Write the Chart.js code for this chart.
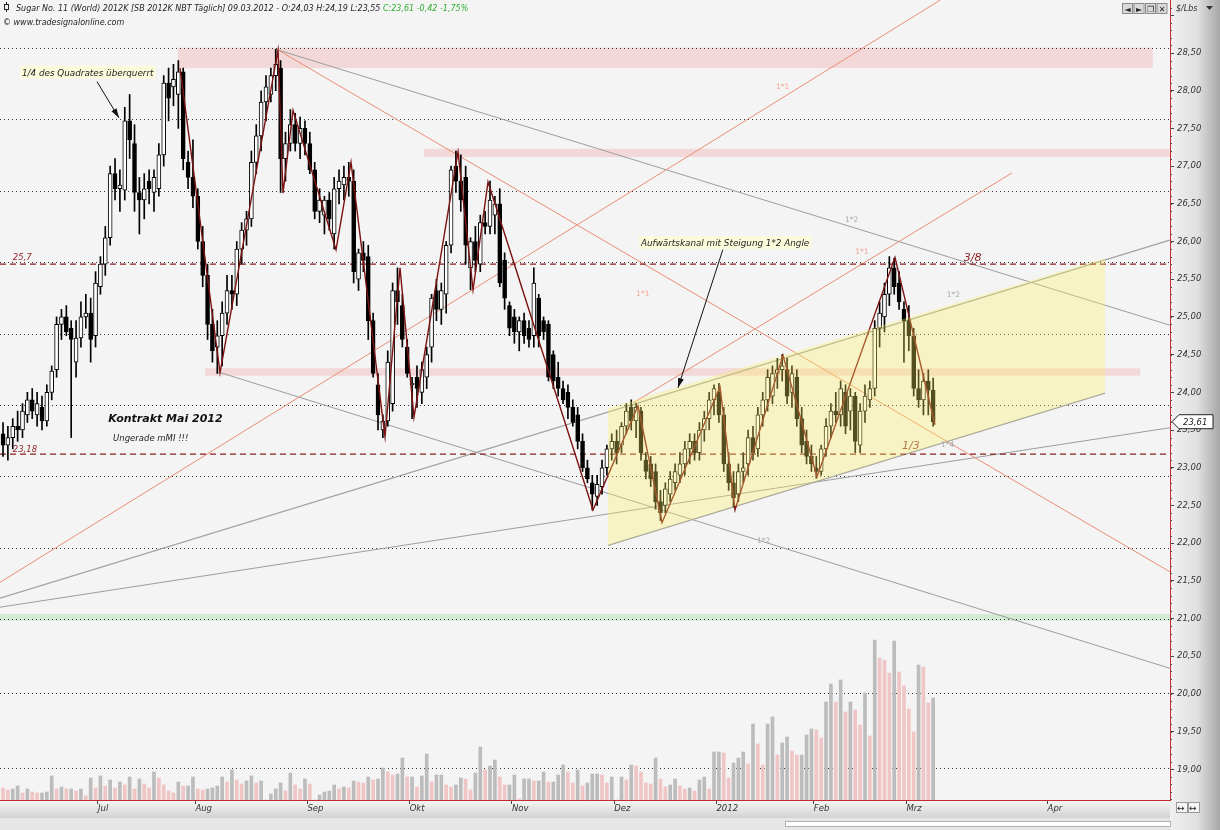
<!DOCTYPE html>
<html>
<head>
<meta charset="utf-8">
<script src="https://cdn.jsdelivr.net/npm/chart.js@4.4.1/dist/chart.umd.min.js"></script>
<style>
  html, body { margin: 0; padding: 0; background: #f4f4f4; }
</style>
</head>
<body>
<canvas id="chart" width="1220" height="830"></canvas>
<script>
// Sugar No. 11 (World) 2012K, daily bars, June 2011 - 09.03.2012
const opens = [
  23.45,23.30,23.40,23.55,23.50,23.70,23.90,23.70,23.80,23.62, 24.00,24.30,24.90,25.00,24.85,24.40,24.72,25.00,25.05,24.75,
  25.40,25.70,26.05,26.90,26.70,26.68,27.60,27.30,26.65,26.55, 26.80,26.65,26.70,27.15,28.10,28.05,27.95,28.25,27.05,26.85,
  26.60,26.00,25.55,24.90,24.60,24.75,25.05,25.35,25.30,25.90, 26.15,26.30,27.05,27.40,27.85,27.95,28.20,28.30,27.10,27.30,
  27.55,27.30,27.50,27.30,26.95,26.40,26.35,26.55,26.10,26.70, 26.75,26.85,26.80,25.50,25.85,25.80,24.95,24.10,23.50,23.62,
  23.85,25.35,25.15,24.60,24.10,24.20,24.00,24.20,24.60,25.35, 25.10,25.30,25.95,27.00,26.80,26.85,25.65,26.00,25.70,26.25,
  26.20,26.35,26.50,25.75,25.15,25.00,24.80,24.95,24.85,24.75, 25.25,24.95,24.90,24.50,24.20,24.05,24.00,23.80,23.70,23.35,
  23.00,22.80,22.62,22.75,23.00,23.25,23.35,23.30,23.55,23.80, 23.62,23.75,23.10,23.05,22.95,22.55,22.50,22.65,22.80,22.90,
  23.05,23.25,23.35,23.20,23.50,23.65,23.90,24.00,23.70,23.05, 22.80,22.65,22.95,23.05,23.40,23.25,23.70,23.90,23.95,24.25,
  24.30,24.30,24.00,24.20,23.65,23.35,23.15,23.00,22.95,23.25, 23.55,23.75,23.70,24.00,23.75,23.95,23.30,23.75,23.90,24.05,
  24.85,25.00,25.30,25.65,25.45,25.10,24.95,24.75,24.05,23.90, 24.15,24.03
];
const highs = [
  23.60,23.55,23.65,23.75,23.85,24.00,24.05,24.00,23.95,24.10, 24.35,25.00,25.10,25.15,24.95,24.95,25.20,25.30,25.25,25.60,
  25.80,26.20,27.00,27.10,26.95,27.78,27.95,27.55,26.85,26.90, 26.95,26.95,27.30,28.20,28.30,28.35,28.40,28.30,27.20,27.35,
  26.70,26.20,25.70,25.10,24.95,25.20,25.55,25.55,26.00,26.25, 26.40,27.20,27.55,28.00,28.20,28.30,28.55,28.40,27.45,27.75,
  27.70,27.65,27.60,27.45,27.05,26.70,26.60,26.65,26.85,26.95, 27.00,27.05,26.95,25.90,26.00,25.95,25.05,24.25,23.70,24.55,
  25.45,25.65,25.30,24.70,24.20,24.35,24.40,24.60,25.30,25.50, 25.45,26.00,27.00,27.20,27.15,27.00,26.05,26.20,26.35,26.40,
  26.80,26.60,26.70,25.85,25.20,25.10,25.00,25.05,24.95,25.65, 25.30,25.00,24.95,24.55,24.40,24.15,24.10,23.90,23.80,23.45,
  23.10,22.90,22.90,23.10,23.30,23.45,23.50,23.60,23.85,23.90, 23.85,23.80,23.20,23.15,23.05,22.70,22.80,22.95,23.05,23.20,
  23.35,23.45,23.45,23.60,23.75,24.00,24.10,24.12,23.80,23.20, 22.95,23.05,23.20,23.50,23.55,23.80,24.00,24.30,24.35,24.45,
  24.50,24.45,24.35,24.30,23.80,23.50,23.30,23.15,23.30,23.65, 23.85,24.00,24.15,24.10,24.05,24.00,23.85,24.10,24.15,24.95,
  25.20,25.45,25.80,25.78,25.60,25.20,25.15,24.85,24.30,24.25, 24.30,24.19
];
const lows = [
  23.15,23.10,23.25,23.35,23.40,23.60,23.65,23.55,23.50,23.55, 23.90,24.20,24.70,24.75,23.40,24.20,24.60,24.85,24.40,24.60,
  25.30,25.55,25.95,26.55,26.40,26.55,27.10,26.40,26.10,26.30, 26.50,26.40,26.60,27.00,27.60,27.80,27.50,26.95,26.70,26.45,
  25.90,25.40,24.70,24.40,24.25,24.35,24.90,25.10,25.15,25.70, 25.95,26.20,26.90,27.20,27.60,27.85,28.00,26.65,26.80,27.20,
  27.20,27.10,27.15,26.90,26.30,26.25,26.10,26.15,25.90,26.50, 26.55,26.60,25.45,25.35,25.60,24.70,24.20,23.50,23.40,23.55,
  23.75,24.90,24.60,24.20,23.65,23.80,23.85,24.05,24.40,24.95, 24.90,25.05,25.85,26.65,26.40,25.70,25.36,25.60,25.60,26.10,
  26.10,26.10,25.40,25.10,24.75,24.65,24.55,24.65,24.60,24.60, 24.60,24.70,24.15,24.05,23.95,23.85,23.65,23.55,23.25,22.95,
  22.80,22.44,22.50,22.65,22.90,23.10,23.05,23.20,23.45,23.50, 23.40,23.10,22.85,22.75,22.45,22.30,22.40,22.55,22.70,22.80,
  22.90,23.05,23.10,23.10,23.35,23.50,23.70,23.60,22.95,22.70, 22.48,22.55,22.80,22.90,23.10,23.15,23.55,23.75,23.85,24.05,
  24.15,23.85,23.80,23.55,23.20,23.05,22.95,22.86,22.90,23.15, 23.40,23.60,23.55,23.45,23.50,23.20,23.20,23.60,23.80,23.95,
  24.60,24.80,25.15,25.30,25.10,24.40,24.55,23.95,23.80,23.70, 23.70,23.55
];
const closes = [
  23.30,23.40,23.55,23.50,23.75,23.90,23.75,23.85,23.62,24.00, 24.28,24.90,25.00,24.80,24.70,24.72,25.00,25.05,24.70,25.45,
  25.70,26.05,26.90,26.70,26.75,27.60,27.35,26.65,26.55,26.70, 26.70,26.85,27.15,28.10,27.90,28.15,28.25,27.10,26.85,26.60,
  26.00,25.55,24.90,24.55,24.75,25.05,25.35,25.30,25.90,26.15, 26.30,27.05,27.40,27.85,28.05,28.20,28.35,27.10,27.30,27.55,
  27.30,27.50,27.30,26.95,26.40,26.55,26.55,26.30,26.70,26.80, 26.85,26.80,25.60,25.85,25.75,24.95,24.25,23.70,23.62,24.40,
  25.35,25.20,24.70,24.25,24.12,24.05,24.30,24.50,25.25,25.10, 25.35,25.95,26.95,26.80,26.55,25.95,26.00,25.75,26.25,26.20,
  26.55,26.50,25.45,25.25,24.85,24.80,24.95,24.75,24.70,25.45, 24.75,24.80,24.20,24.15,24.05,23.90,23.80,23.60,23.35,23.00,
  22.85,22.65,22.78,23.00,23.25,23.35,23.20,23.55,23.75,23.62, 23.80,23.20,22.95,22.85,22.55,22.40,22.72,22.85,22.95,23.05,
  23.25,23.35,23.20,23.50,23.65,23.90,24.05,23.70,23.05,22.80, 22.60,22.95,23.00,23.40,23.20,23.70,23.90,24.20,24.25,24.30,
  24.35,23.95,24.25,23.65,23.30,23.15,23.05,22.95,23.25,23.55, 23.75,23.70,24.05,23.55,23.95,23.35,23.75,23.95,24.05,24.85,
  25.05,25.30,25.65,25.40,25.20,24.95,24.75,24.05,23.90,24.15, 24.03,23.61
];
// volume, relative units (bar height)
const volume = [
  12,10,11,14,7,11,8,7,7,8, 24,11,13,11,11,9,11,4,22,12, 24,14,20,12,18,15,23,11,21,16,
  12,28,22,15,9,7,18,14,14,23, 11,10,11,12,14,23,18,30,20,16, 19,24,17,19,0,6,11,17,9,27,
  15,11,21,16,0,5,8,9,15,11, 13,12,19,18,17,23,20,21,32,28, 25,26,42,23,23,13,24,46,18,25,
  25,15,13,15,22,21,10,27,53,30, 34,40,23,15,15,25,1,21,21,19, 19,28,18,18,25,35,28,17,30,14,
  17,26,26,25,17,23,0, 23,20,35,34,28,17,16,42,21,13,15,21,14,11,12,9,20,23,11,48,48,47,22,37,
  42,48,36,76,56,35,76,83,45,57, 63,49,45,45,65,71,70,62,98,116, 98,120,88,98,90,75,107,64,160,142,
  140,127,159,128,114,91,68,135,133,97,102
];
const monthPos = [19.5, 39.5, 62.5, 83.5, 104.5, 125.5, 146.5, 166.5, 185.5, 214.5];
const monthLabels = ['Jul', 'Aug', 'Sep', 'Okt', 'Nov', 'Dez', '2012', 'Feb', 'Mrz', 'Apr'];

// zigzag swing points (bar index, price)
const zigX = [36.35, 44.56, 56.47, 57.49, 59.55, 68.38, 71.46, 78.44, 81.52, 84.39, 93.43, 96.51, 99.59,
              121.15, 130.39, 135.32, 147.23, 150.31, 160.16, 167.15, 183.16, 191.38];
const zigY = [28.30, 24.26, 28.54, 26.64, 27.74, 25.89, 27.05, 23.41, 25.65, 23.67, 27.19, 25.36, 26.79,
              22.44, 23.82, 22.27, 24.07, 22.44, 24.49, 22.88, 25.79, 23.57];

// Gann angle lines [x1, y1, x2, y2]
const angleLines1x1 = [[56.47, 28.54, 239.6, 21.62], [-0.62, 21.48, 192.4, 29.20], [129.4, 23.86, 207.2, 26.91]];
const angleLines1x2 = [[56.47, 28.54, 239.6, 24.89], [44.15, 24.27, 239.6, 20.34], [-0.62, 21.15, 239.6, 23.53]];
const channelTopLine = [-0.62, 21.27, 239.6, 26.02];
const channelBottomLine = [124.23, 21.97, 226.28, 23.99];
const channelX = [124.23, 226.28];
const channelTop = [23.79, 25.78];
const channelBottom = [21.97, 23.99];

// resistance zones [x1, x2, low, high]
const zones = [[35.9, 236.1, 28.30, 28.57], [86.4, 240, 27.12, 27.23], [41.5, 233.5, 24.22, 24.32]];
const supportZone = [20.97, 21.06];
const dashedLevels = [25.7, 23.18];
const dottedLevels = [28.57, 27.62, 26.67, 25.73, 24.77, 23.83, 22.89, 21.93, 21.0, 20.01, 19.02];

const xMin = -0.62, xMax = 239.63, yMin = 18.593, yMax = 29.203;
const FONT = '"DejaVu Sans", sans-serif';

const bars = closes.map((c, i) => i);
const up = bars.map(i => closes[i] >= opens[i]);

function lineSet(p, color, width, order, dash) {
  return {
    type: 'line', data: [{x: p[0], y: p[1]}, {x: p[2], y: p[3]}],
    borderColor: color, borderWidth: width, pointRadius: 0, order: order,
    borderDash: dash || [], yAxisID: 'y'
  };
}

const datasets = [
  {
    type: 'bar', yAxisID: 'yVol', order: 20, grouped: false, barThickness: 3,
    data: bars.map(i => ({x: i, y: volume[i]})),
    backgroundColor: volume.map((v, i) => (i > 0 && v >= volume[i - 1]) ? '#bcbcbc' : '#f0c5c5')
  },
  ...angleLines1x1.map(p => lineSet(p, '#ec8d74', 1, 12)),
  ...angleLines1x2.map(p => lineSet(p, '#9d9d9d', 1, 12)),
  lineSet(channelTopLine, '#a2a2a2', 1.3, 11),
  lineSet(channelBottomLine, '#a2a2a2', 1.2, 11),
  ...dashedLevels.map(v => lineSet([xMin, v, xMax, v], '#8a1f1f', 1.2, 10, [6, 4])),
  {
    type: 'bar', yAxisID: 'y', order: 6, grouped: false, barThickness: 1,
    data: bars.map(i => ({x: i, y: [lows[i], highs[i]]})),
    backgroundColor: '#000'
  },
  {
    type: 'bar', yAxisID: 'y', order: 5, grouped: false, barThickness: 4, minBarLength: 1,
    data: bars.map(i => ({x: i, y: [opens[i], closes[i]]})),
    backgroundColor: up.map(u => u ? '#ffffff' : '#000000'),
    borderColor: '#000', borderWidth: 1, borderSkipped: false
  },
  {
    type: 'line', yAxisID: 'y', order: 2,
    data: zigX.map((x, i) => ({x: x, y: zigY[i]})),
    borderColor: '#7c1212', borderWidth: 1.4, pointRadius: 0
  }
];

// text notes placed in chart units
const notes = [
  {t: '25,7', x: 2.0, y: 25.75, k: 'lvl'},
  {t: '23,18', x: 2.0, y: 23.21, k: 'lvl'},
  {t: '3/8', x: 197.3, y: 25.74, k: 'big'},
  {t: '1/3', x: 184.6, y: 23.25, k: 'big2'},
  {t: '1*1', x: 158.7, y: 28.02, k: 'o'},
  {t: '1*1', x: 130.0, y: 25.28, k: 'o'},
  {t: '1*1', x: 175.0, y: 25.84, k: 'o'},
  {t: '1*2', x: 172.9, y: 26.26, k: 'g'},
  {t: '1*2', x: 193.8, y: 25.27, k: 'g'},
  {t: '1*2', x: 154.8, y: 22.00, k: 'g'},
  {t: '1*4', x: 192.6, y: 23.28, k: 'g'},
  {t: 'Kontrakt Mai 2012', x: 21.6, y: 23.60, k: 'title'},
  {t: 'Ungerade mMI !!!', x: 22.6, y: 23.35, k: 'n'},
  {t: '1/4 des Quadrates überquerrt', x: 3.9, y: 28.20, k: 'box'},
  {t: 'Aufwärtskanal mit Steigung 1*2 Angle', x: 131.0, y: 25.94, k: 'box'}
];
const arrows = [[19.3, 28.12, 23.8, 27.64], [147.8, 25.89, 138.6, 24.06]];

const noteStyle = {
  lvl: ['italic 8.5px ' + FONT, '#8a1f1f'],
  big: ['italic 11px ' + FONT, '#8a1f1f'],
  big2: ['italic 11px ' + FONT, '#b0784a'],
  o: ['7.5px ' + FONT, '#f0a58f'],
  g: ['7.5px ' + FONT, '#a8a8a8'],
  title: ['italic bold 11px ' + FONT, '#111'],
  n: ['italic 8.5px ' + FONT, '#222'],
  box: ['italic 8.8px ' + FONT, '#222']
};

const backdrop = {
  id: 'backdrop',
  beforeDraw(chart) {
    const {ctx, chartArea: a, width, height} = chart;
    ctx.save();
    ctx.fillStyle = '#f4f4f4';
    ctx.fillRect(0, 0, width, height);
    let g = ctx.createLinearGradient(a.right, 0, width, 0);
    g.addColorStop(0, '#f0f0f0');
    g.addColorStop(0.55, '#e0e0e0');
    g.addColorStop(1, '#a6a6a6');
    ctx.fillStyle = g;
    ctx.fillRect(a.right, 0, width - a.right, height);
    g = ctx.createLinearGradient(0, a.bottom, 0, a.bottom + 18);
    g.addColorStop(0, '#f7f7f7');
    g.addColorStop(1, '#d2d2d2');
    ctx.fillStyle = g;
    ctx.fillRect(0, a.bottom, a.right, 18);
    ctx.fillStyle = '#e6e6e6';
    ctx.fillRect(0, a.bottom + 18, a.right, height - a.bottom - 18);
    ctx.fillStyle = '#ffffff';
    ctx.strokeStyle = '#b0b0b0';
    ctx.fillRect(785, a.bottom + 21, 385, 5);
    ctx.strokeRect(785.5, a.bottom + 21.5, 385, 5);
    ctx.restore();
  },
  beforeDatasetsDraw(chart) {
    const {ctx, chartArea: a, scales: {x, y}} = chart;
    ctx.save();
    ctx.beginPath();
    ctx.rect(a.left, a.top, a.right - a.left, a.bottom - a.top);
    ctx.clip();
    ctx.fillStyle = 'rgba(240,170,170,0.38)';
    zones.forEach(z => {
      const x1 = x.getPixelForValue(z[0]), x2 = x.getPixelForValue(z[1]);
      const y1 = y.getPixelForValue(z[3]), y2 = y.getPixelForValue(z[2]);
      ctx.fillRect(x1, y1, x2 - x1, y2 - y1);
    });
    ctx.fillStyle = 'rgba(170,225,170,0.45)';
    const gy1 = y.getPixelForValue(supportZone[1]), gy2 = y.getPixelForValue(supportZone[0]);
    ctx.fillRect(a.left, gy1, a.right - a.left, gy2 - gy1);
    ctx.strokeStyle = '#333';
    ctx.lineWidth = 1;
    ctx.setLineDash([1, 3]);
    dottedLevels.forEach(v => {
      const py = Math.round(y.getPixelForValue(v)) + 0.5;
      ctx.beginPath();
      ctx.moveTo(a.left, py);
      ctx.lineTo(a.right, py);
      ctx.stroke();
    });
    ctx.restore();
  },
  afterDatasetsDraw(chart) {
    const {ctx, chartArea: a, scales: {x, y}} = chart;
    ctx.save();
    ctx.beginPath();
    ctx.rect(a.left, a.top, a.right - a.left, a.bottom - a.top);
    ctx.clip();
    // channel overlay
    ctx.fillStyle = 'rgba(255,244,95,0.32)';
    ctx.beginPath();
    ctx.moveTo(x.getPixelForValue(channelX[0]), y.getPixelForValue(channelTop[0]));
    ctx.lineTo(x.getPixelForValue(channelX[1]), y.getPixelForValue(channelTop[1]));
    ctx.lineTo(x.getPixelForValue(channelX[1]), y.getPixelForValue(channelBottom[1]));
    ctx.lineTo(x.getPixelForValue(channelX[0]), y.getPixelForValue(channelBottom[0]));
    ctx.closePath();
    ctx.fill();
    // notes
    ctx.textBaseline = 'alphabetic';
    notes.forEach(n => {
      const [font, color] = noteStyle[n.k];
      const px = x.getPixelForValue(n.x), py = y.getPixelForValue(n.y);
      ctx.font = font;
      if (n.k === 'box') {
        const w = ctx.measureText(n.t).width;
        ctx.fillStyle = '#fbfbdc';
        ctx.fillRect(px - 2, py - 10, w + 4, 13);
      }
      ctx.fillStyle = color;
      ctx.fillText(n.t, px, py);
    });
    ctx.strokeStyle = '#111';
    ctx.fillStyle = '#111';
    ctx.lineWidth = 1;
    arrows.forEach(r => {
      const x1 = x.getPixelForValue(r[0]), y1 = y.getPixelForValue(r[1]);
      const x2 = x.getPixelForValue(r[2]), y2 = y.getPixelForValue(r[3]);
      ctx.beginPath();
      ctx.moveTo(x1, y1);
      ctx.lineTo(x2, y2);
      ctx.stroke();
      const ang = Math.atan2(y2 - y1, x2 - x1);
      ctx.beginPath();
      ctx.moveTo(x2, y2);
      ctx.lineTo(x2 - 10 * Math.cos(ang - 0.3), y2 - 10 * Math.sin(ang - 0.3));
      ctx.lineTo(x2 - 10 * Math.cos(ang + 0.3), y2 - 10 * Math.sin(ang + 0.3));
      ctx.closePath();
      ctx.fill();
    });
    ctx.restore();
  },
  afterDraw(chart) {
    const {ctx, chartArea: a, scales: {y}} = chart;
    ctx.save();
    // frame
    ctx.strokeStyle = '#c8282d';
    ctx.lineWidth = 1;
    ctx.beginPath();
    ctx.moveTo(a.right + 0.5, 0);
    ctx.lineTo(a.right + 0.5, a.bottom + 0.5);
    ctx.lineTo(0, a.bottom + 0.5);
    ctx.stroke();
    // minor ticks on price axis
    ctx.strokeStyle = '#555';
    for (let v = 18.6; v < 29.2; v += 0.1) {
      const py = Math.round(y.getPixelForValue(v)) + 0.5;
      ctx.beginPath();
      ctx.moveTo(a.right, py);
      ctx.lineTo(a.right + 2, py);
      ctx.stroke();
    }
    // header
    ctx.font = 'italic 8px ' + FONT;
    ctx.fillStyle = '#222';
    const head = 'Sugar No. 11 (World) 2012K [SB 2012K NBT Täglich] 09.03.2012 - O:24,03 H:24,19 L:23,55 ';
    ctx.fillText(head, 16, 11);
    ctx.fillStyle = '#2fae2f';
    ctx.fillText('C:23,61 -0,42 -1,75%', 16 + ctx.measureText(head).width, 11);
    ctx.fillStyle = '#222';
    ctx.fillText('© www.tradesignalonline.com', 3, 25);
    ctx.strokeStyle = '#222';
    ctx.strokeRect(4.5, 4.5, 4, 5);
    ctx.beginPath();
    ctx.moveTo(6.5, 2); ctx.lineTo(6.5, 4.5);
    ctx.moveTo(6.5, 9.5); ctx.lineTo(6.5, 12);
    ctx.stroke();
    // unit + buttons
    ctx.font = 'italic 8px ' + FONT;
    ctx.fillStyle = '#333';
    ctx.fillText('$/Lbs', a.right + 6, 11);
    ctx.beginPath();
    ctx.moveTo(a.right + 36, 6); ctx.lineTo(a.right + 43, 6); ctx.lineTo(a.right + 39.5, 10);
    ctx.closePath(); ctx.fill();
    ['◄', '►', '❐', '✕'].forEach((s, i) => {
      const bx = 1122 + i * 11.5;
      ctx.fillStyle = '#d9d9d9';
      ctx.fillRect(bx, 3, 10, 10);
      ctx.strokeStyle = '#8a8a8a';
      ctx.strokeRect(bx + 0.5, 3.5, 10, 10);
      ctx.fillStyle = '#222';
      ctx.font = '8px ' + FONT;
      ctx.textAlign = 'center';
      ctx.fillText(s, bx + 5.5, 11.5);
      ctx.textAlign = 'left';
    });
    // last price marker
    const py = y.getPixelForValue(closes[closes.length - 1]);
    ctx.fillStyle = '#fff';
    ctx.strokeStyle = '#222';
    ctx.beginPath();
    ctx.moveTo(a.right + 2, py);
    ctx.lineTo(a.right + 9, py - 7);
    ctx.lineTo(a.right + 43, py - 7);
    ctx.lineTo(a.right + 43, py + 7);
    ctx.lineTo(a.right + 9, py + 7);
    ctx.closePath();
    ctx.fill();
    ctx.stroke();
    ctx.fillStyle = '#222';
    ctx.font = 'italic 8.5px ' + FONT;
    ctx.fillText(closes[closes.length - 1].toFixed(2).replace('.', ','), a.right + 13, py + 3.5);
    // corner buttons
    ctx.font = '9px ' + FONT;
    ['↔', '↔'].forEach((s, i) => {
      const bx = a.right + 6 + i * 12;
      ctx.fillStyle = '#f4f4f4';
      ctx.fillRect(bx, a.bottom + 2, 11, 10);
      ctx.strokeStyle = '#999';
      ctx.strokeRect(bx + 0.5, a.bottom + 2.5, 11, 10);
      ctx.fillStyle = '#222';
      ctx.fillText(s, bx + 1, a.bottom + 10.5);
    });
    ctx.restore();
  }
};

new Chart(document.getElementById('chart'), {
  type: 'bar',
  data: {datasets: datasets},
  options: {
    responsive: false,
    animation: false,
    devicePixelRatio: 1,
    layout: {padding: {left: 0, right: 0, top: 0, bottom: 12}},
    plugins: {legend: {display: false}, tooltip: {enabled: false}},
    scales: {
      x: {
        type: 'linear', position: 'bottom', min: xMin, max: xMax, offset: false,
        grid: {drawOnChartArea: false, offset: false, tickLength: 4, color: '#444'},
        border: {color: '#c8282d'},
        afterBuildTicks: s => { s.ticks = monthPos.map(v => ({value: v})); },
        afterFit: s => { s.height = 18; s.paddingLeft = 0; s.paddingRight = 0; },
        ticks: {
          autoSkip: false, maxRotation: 0, minRotation: 0, align: 'start', padding: 0,
          color: '#333', font: {family: FONT, size: 8.5, style: 'italic'},
          callback: v => monthLabels[monthPos.indexOf(v)] || ''
        }
      },
      y: {
        type: 'linear', position: 'right', min: yMin, max: yMax,
        grid: {drawOnChartArea: false, tickLength: 4, color: '#444'},
        border: {color: '#c8282d'},
        afterFit: s => { s.width = 50; s.paddingTop = 0; s.paddingBottom = 0; },
        ticks: {
          stepSize: 0.5, includeBounds: false, padding: 3,
          color: '#333', font: {family: FONT, size: 8.5, style: 'italic'},
          callback: v => v > 28.6 ? '' : v.toFixed(2).replace('.', ',')
        }
      },
      yVol: {type: 'linear', display: false, min: 0, max: 800}
    }
  },
  plugins: [backdrop]
});
</script>
</body>
</html>
